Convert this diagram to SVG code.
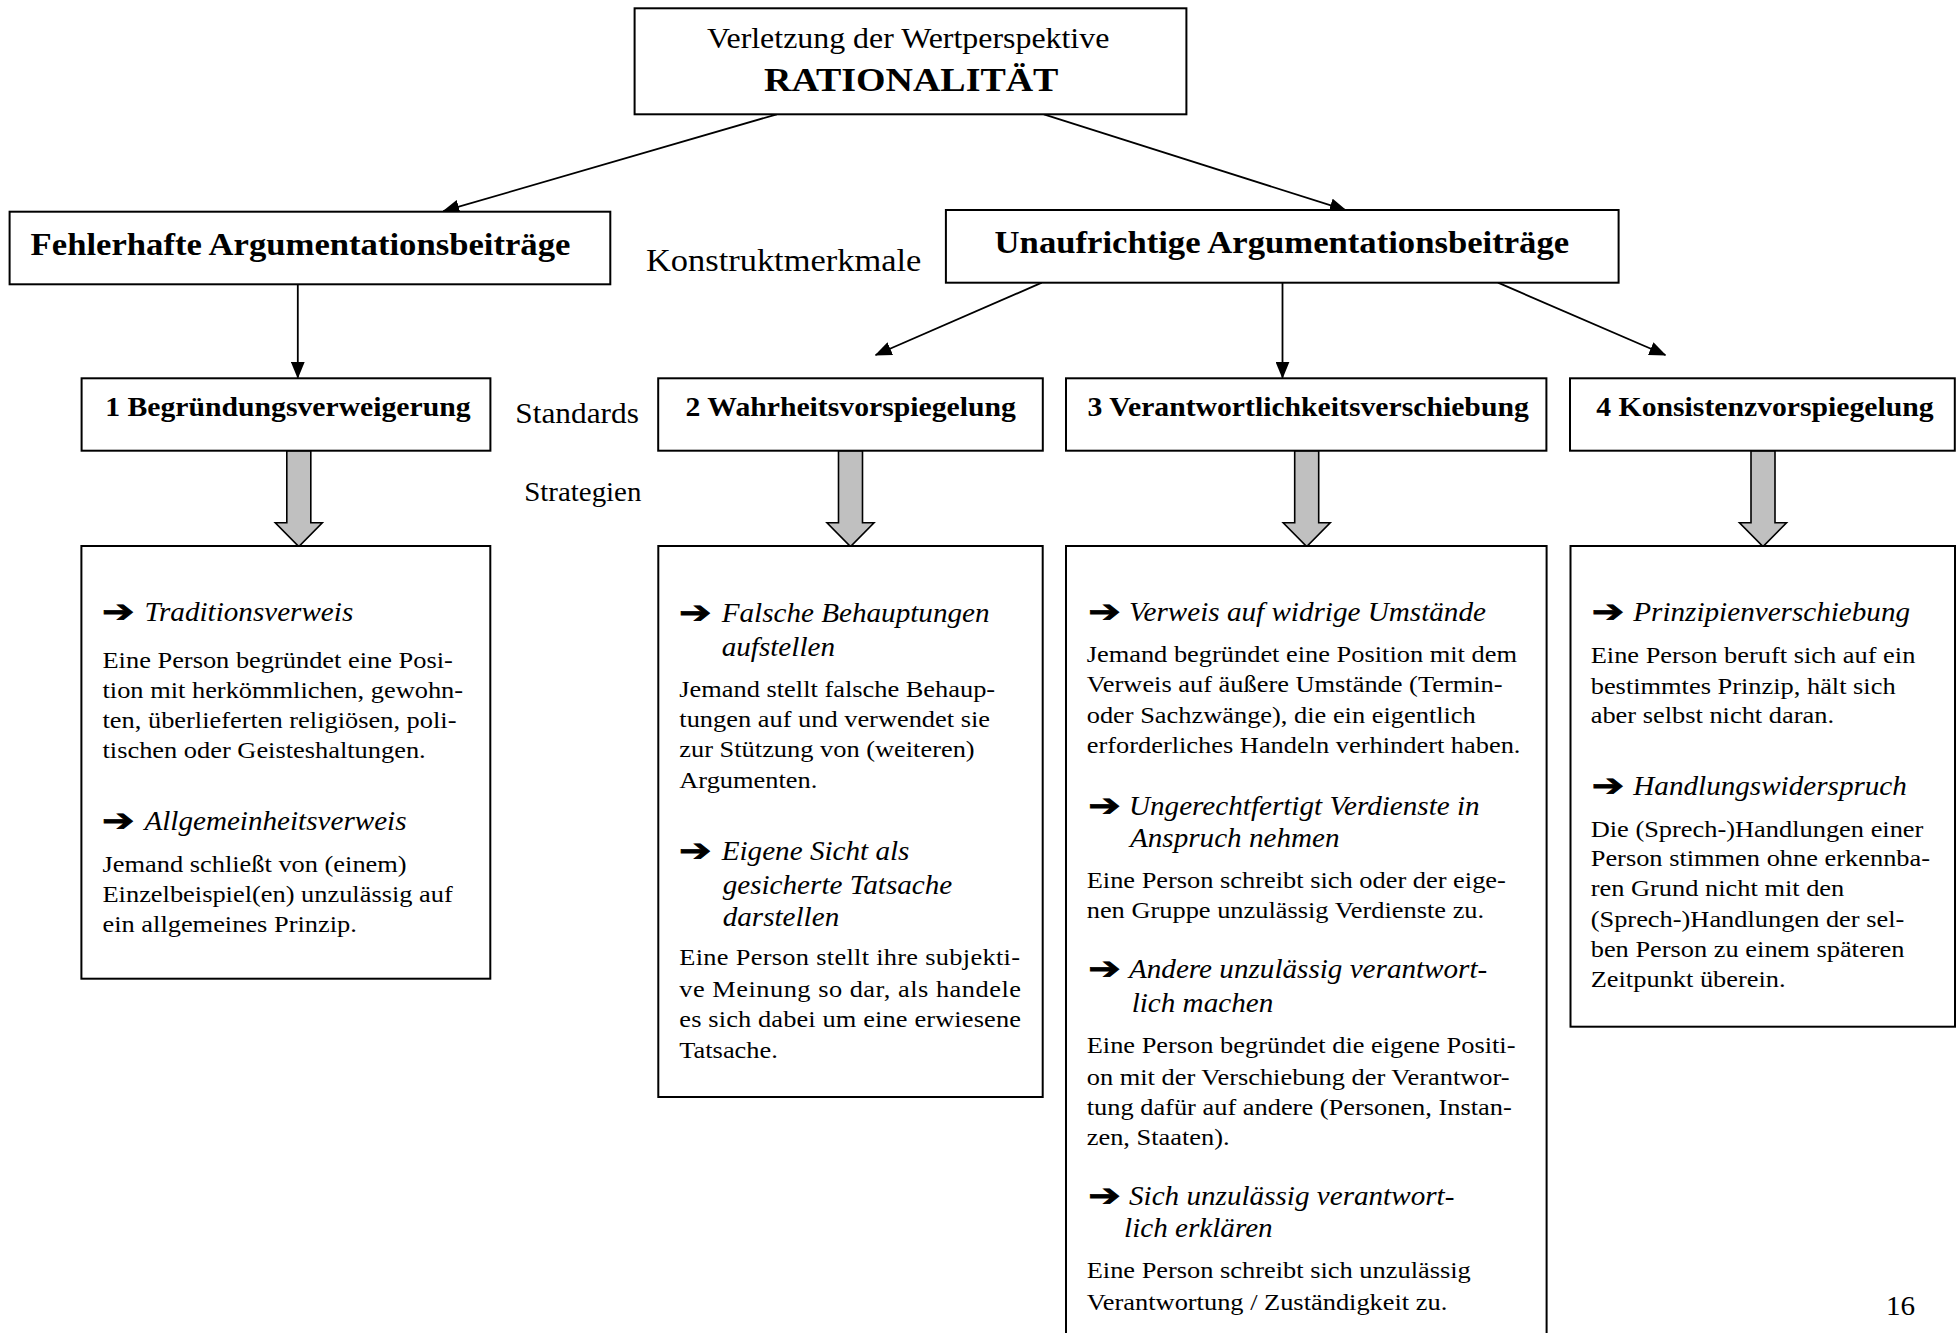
<svg xmlns="http://www.w3.org/2000/svg" width="1959" height="1333" viewBox="0 0 1959 1333">
<style>
.box{fill:#fff;stroke:#000;stroke-width:2}
.t{font-family:"Liberation Serif","Times New Roman",serif;fill:#000}
.b{font-weight:bold}
.i{font-style:italic}
.body{font-size:24px}
.h{font-size:26.5px}
.hd{font-size:27px}
.big{font-size:31.5px}
.sym{font-family:"DejaVu Sans",sans-serif;font-weight:bold;font-size:31px;fill:#000;stroke:#000;stroke-width:0.8}
.conn{stroke:#000;stroke-width:1.8;fill:none}
.blk{fill:#c0c0c0;stroke:#000;stroke-width:1.6;stroke-linejoin:miter}
</style>
<defs>
<marker id="ah" viewBox="0 0 17 14" refX="16" refY="7" markerWidth="17" markerHeight="14" markerUnits="userSpaceOnUse" orient="auto">
<path d="M0,0 L17,7 L0,14 z" fill="#000"/>
</marker>
</defs>
<rect width="1959" height="1333" fill="#fff"/>

<g id="connectors">
<line class="conn" x1="776.8" y1="114.3" x2="443.3" y2="211.2" marker-end="url(#ah)"/>
<line class="conn" x1="1043.9" y1="114.3" x2="1345.8" y2="210.2" marker-end="url(#ah)"/>
<line class="conn" x1="297.8" y1="284.3" x2="297.8" y2="377.7" marker-end="url(#ah)"/>
<line class="conn" x1="1041.8" y1="282.7" x2="875.6" y2="355" marker-end="url(#ah)"/>
<line class="conn" x1="1282.5" y1="282.7" x2="1282.5" y2="377.7" marker-end="url(#ah)"/>
<line class="conn" x1="1498" y1="282.7" x2="1665.4" y2="355" marker-end="url(#ah)"/>
<path class="blk" d="M286.8,450.7 H310.8 V522.7 H322.3 L298.8,546.5 L275.3,522.7 H286.8 Z"/>
<path class="blk" d="M838.5,450.7 H862.5 V522.7 H874 L850.5,546.5 L827,522.7 H838.5 Z"/>
<path class="blk" d="M1294.7,450.7 H1318.7 V522.7 H1330.2 L1306.7,546.5 L1283.2,522.7 H1294.7 Z"/>
<path class="blk" d="M1751,450.7 H1775 V522.7 H1786.5 L1763,546.5 L1739.5,522.7 H1751 Z"/>
</g>

<g id="root">
<rect class="box" x="634.6" y="8.3" width="551.8" height="106"/>
<text class="t" style="font-size:29px" transform="translate(707,0) scale(1.1,1)"><tspan x="0" y="48.3">Verletzung der Wertperspektive</tspan></text>
<text class="t b" style="font-size:34.5px" transform="translate(764,0) scale(1.1,1)"><tspan x="0" y="90.7">RATIONALITÄT</tspan></text>
</g>

<g id="fehlerhaft">
<rect class="box" x="9.6" y="211.7" width="600.7" height="72.6"/>
<text class="t b big" transform="translate(30.6,0) scale(1.1,1)"><tspan x="0" y="255">Fehlerhafte Argumentationsbeiträge</tspan></text>
</g>

<g id="label-konstruktmerkmale">
<text class="t" style="font-size:31.3px" transform="translate(646,0) scale(1.1,1)"><tspan x="0" y="270.7">Konstruktmerkmale</tspan></text>
</g>

<g id="unaufrichtig">
<rect class="box" x="945.9" y="210" width="672.7" height="72.7"/>
<text class="t b big" transform="translate(994.6,0) scale(1.1,1)"><tspan x="0" y="252.7">Unaufrichtige Argumentationsbeiträge</tspan></text>
</g>

<g id="label-standards">
<text class="t" style="font-size:28.5px" transform="translate(515.3,0) scale(1.1,1)"><tspan x="0" y="423.3">Standards</tspan></text>
</g>
<g id="label-strategien">
<text class="t" style="font-size:26.3px" transform="translate(524.2,0) scale(1.1,1)"><tspan x="0" y="500.7">Strategien</tspan></text>
</g>

<g id="std1">
<rect class="box" x="81.6" y="378.3" width="408.8" height="72.4"/>
<text class="t b hd" transform="translate(105.2,0) scale(1.1,1)"><tspan x="0" y="416">1 Begründungsverweigerung</tspan></text>
</g>
<g id="std2">
<rect class="box" x="658.2" y="378.3" width="384.6" height="72.4"/>
<text class="t b hd" transform="translate(685.6,0) scale(1.1,1)"><tspan x="0" y="416">2 Wahrheitsvorspiegelung</tspan></text>
</g>
<g id="std3">
<rect class="box" x="1066" y="378.3" width="480.4" height="72.4"/>
<text class="t b hd" transform="translate(1087.5,0) scale(1.1,1)"><tspan x="0" y="416">3 Verantwortlichkeitsverschiebung</tspan></text>
</g>
<g id="std4">
<rect class="box" x="1570" y="378.3" width="384.8" height="72.4"/>
<text class="t b hd" transform="translate(1596.3,0) scale(1.1,1)"><tspan x="0" y="416">4 Konsistenzvorspiegelung</tspan></text>
</g>

<g id="strat1">
<rect class="box" x="81.4" y="546" width="408.9" height="432.7"/>
<text class="sym" transform="translate(102,0) scale(1.25,1)"><tspan x="0" y="622">➔</tspan><tspan x="0" y="831">➔</tspan></text>
<text class="t i h" transform="translate(144.4,0) scale(1.1,1)"><tspan x="0" y="621">Traditionsverweis</tspan><tspan x="0" y="830">Allgemeinheitsverweis</tspan></text>
<text class="t body" transform="translate(102.5,0) scale(1.1,1)"><tspan x="0" y="667.7">Eine Person begründet eine Posi-</tspan><tspan x="0" y="697.7">tion mit herkömmlichen, gewohn-</tspan><tspan x="0" y="727.9">ten, überlieferten religiösen, poli-</tspan><tspan x="0" y="758.3">tischen oder Geisteshaltungen.</tspan><tspan x="0" y="871.7">Jemand schließt von (einem)</tspan><tspan x="0" y="901.7">Einzelbeispiel(en) unzulässig auf</tspan><tspan x="0" y="931.7">ein allgemeines Prinzip.</tspan></text>
</g>

<g id="strat2">
<rect class="box" x="658.3" y="546" width="384.4" height="551"/>
<text class="sym" transform="translate(679,0) scale(1.25,1)"><tspan x="0" y="623">➔</tspan><tspan x="0" y="860.6">➔</tspan></text>
<text class="t i h" transform="translate(721.7,0) scale(1.1,1)"><tspan x="0" y="622.1">Falsche Behauptungen</tspan><tspan x="0" y="656">aufstellen</tspan><tspan x="0" y="859.6">Eigene Sicht als</tspan><tspan x="0.9" y="893.6">gesicherte Tatsache</tspan><tspan x="0.9" y="925.7">darstellen</tspan></text>
<text class="t body" transform="translate(679.3,0) scale(1.1,1)"><tspan x="0" y="697.1">Jemand stellt falsche Behaup-</tspan><tspan x="0" y="727.5">tungen auf und verwendet sie</tspan><tspan x="0" y="757.1">zur Stützung von (weiteren)</tspan><tspan x="0" y="788.2">Argumenten.</tspan><tspan x="0" y="965" textLength="309.7" lengthAdjust="spacing">Eine Person stellt ihre subjekti-</tspan><tspan x="0" y="997.1" textLength="310.6" lengthAdjust="spacing">ve Meinung so dar, als handele</tspan><tspan x="0" y="1027.5" textLength="310.6" lengthAdjust="spacing">es sich dabei um eine erwiesene</tspan><tspan x="0" y="1057.9">Tatsache.</tspan></text>
</g>

<g id="strat3">
<rect class="box" x="1066" y="546" width="480.6" height="800"/>
<text class="sym" transform="translate(1088.3,0) scale(1.25,1)"><tspan x="0" y="622">➔</tspan><tspan x="0" y="816">➔</tspan><tspan x="0" y="979.3">➔</tspan><tspan x="0" y="1206">➔</tspan></text>
<text class="t i h" transform="translate(1129,0) scale(1.1,1)"><tspan x="0" y="621">Verweis auf widrige Umstände</tspan><tspan x="0" y="815">Ungerechtfertigt Verdienste in</tspan><tspan x="0.9" y="846.7">Anspruch nehmen</tspan><tspan x="0" y="978.3">Andere unzulässig verantwort-</tspan><tspan x="2.4" y="1011.7">lich machen</tspan><tspan x="0" y="1205">Sich unzulässig verantwort-</tspan><tspan x="-4.5" y="1236.7">lich erklären</tspan></text>
<text class="t body" transform="translate(1086.7,0) scale(1.1,1)"><tspan x="0" y="661.7">Jemand begründet eine Position mit dem</tspan><tspan x="0" y="691.7">Verweis auf äußere Umstände (Termin-</tspan><tspan x="0" y="722.7">oder Sachzwänge), die ein eigentlich</tspan><tspan x="0" y="753.3">erforderliches Handeln verhindert haben.</tspan><tspan x="0" y="888.3">Eine Person schreibt sich oder der eige-</tspan><tspan x="0" y="918.3">nen Gruppe unzulässig Verdienste zu.</tspan><tspan x="0" y="1053.3">Eine Person begründet die eigene Positi-</tspan><tspan x="0" y="1085">on mit der Verschiebung der Verantwor-</tspan><tspan x="0" y="1115">tung dafür auf andere (Personen, Instan-</tspan><tspan x="0" y="1145">zen, Staaten).</tspan><tspan x="0" y="1278.3">Eine Person schreibt sich unzulässig</tspan><tspan x="0" y="1310">Verantwortung / Zuständigkeit zu.</tspan></text>
</g>

<g id="strat4">
<rect class="box" x="1570.5" y="546" width="384.5" height="480.7"/>
<text class="sym" transform="translate(1591.7,0) scale(1.25,1)"><tspan x="0" y="622">➔</tspan><tspan x="0" y="796">➔</tspan></text>
<text class="t i h" transform="translate(1633.3,0) scale(1.1,1)"><tspan x="0" y="621">Prinzipienverschiebung</tspan><tspan x="0" y="795">Handlungswiderspruch</tspan></text>
<text class="t body" transform="translate(1590.7,0) scale(1.1,1)"><tspan x="0" y="663.3">Eine Person beruft sich auf ein</tspan><tspan x="0" y="694">bestimmtes Prinzip, hält sich</tspan><tspan x="0" y="723.3">aber selbst nicht daran.</tspan><tspan x="0" y="836.7">Die (Sprech-)Handlungen einer</tspan><tspan x="0" y="866">Person stimmen ohne erkennba-</tspan><tspan x="0" y="896">ren Grund nicht mit den</tspan><tspan x="0" y="926.7">(Sprech-)Handlungen der sel-</tspan><tspan x="0" y="957.3">ben Person zu einem späteren</tspan><tspan x="0" y="986.7">Zeitpunkt überein.</tspan></text>
</g>

<g id="page-number">
<text class="t" style="font-size:26.5px" transform="translate(1886,0) scale(1.1,1)"><tspan x="0" y="1315">16</tspan></text>
</g>
</svg>
